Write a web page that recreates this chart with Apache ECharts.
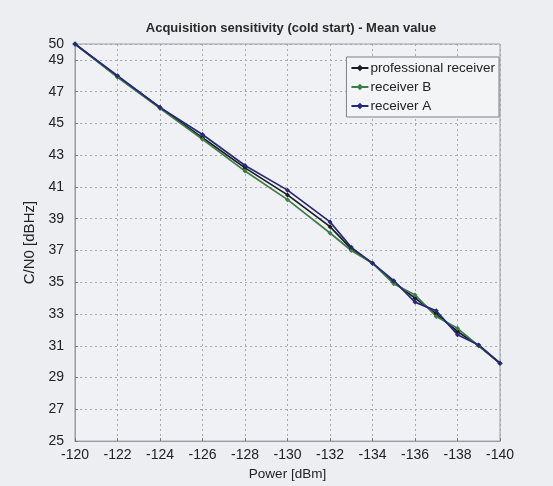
<!DOCTYPE html>
<html>
<head>
<meta charset="utf-8">
<script src="https://cdn.jsdelivr.net/npm/echarts@6/dist/echarts.min.js"></script>
<style>
html,body{margin:0;padding:0;background:#eceef1;}
#chart{width:553px;height:486px;}
</style>
</head>
<body>
<div id="chart"></div>
<script>
const powerProf = [-120,-122,-124,-126,-128,-130,-132,-133,-134,-135,-136,-137,-138,-139,-140];
const cnoProf   = [50,47.95,46.0,44.1,42.2,40.5,38.5,37.1,36.2,35.0,34.0,33.0,31.9,31.0,29.9];
const powerB = [-120,-122,-124,-126,-128,-130,-132,-133,-134,-135,-136,-137,-138,-139,-140];
const cnoB   = [50,47.9,45.95,44.0,42.0,40.2,38.1,37.0,36.2,34.9,34.2,32.85,32.1,31.0,29.9];
const powerA = [-120,-122,-124,-126,-128,-130,-132,-133,-134,-135,-136,-137,-138,-139,-140];
const cnoA   = [50,48.0,46.0,44.3,42.35,40.8,38.8,37.2,36.2,35.1,33.75,33.2,31.7,31.05,29.9];
const yTicks = [25,27,29,31,33,35,37,39,41,43,45,47,49,50];
const seriesNames = ['professional receiver','receiver B','receiver A'];
const seriesColors = ['#1c1c26','#3d7d47','#28287a'];

const pairs = (xs, ys) => xs.map((x, i) => [x, ys[i]]);
const font = 'Liberation Sans';

const chart = echarts.init(document.getElementById('chart'));
const mk = (name, xs, ys, color) => ({
  name, type: 'line', data: pairs(xs, ys),
  symbol: 'diamond', symbolSize: 5, showSymbol: true,
  lineStyle: { color, width: 1.7 }, itemStyle: { color },
  emphasis: { disabled: true }, animation: false
});
chart.setOption({
  backgroundColor: '#eceef1',
  animation: false,
  textStyle: { fontFamily: font },
  title: {
    text: 'Acquisition sensitivity (cold start) - Mean value',
    left: 286, textAlign: 'center', top: 17,
    textStyle: { fontFamily: font, fontSize: 13, fontWeight: 'bold', color: '#2a2a2a' }
  },
  legend: {
    right: 54, top: 57, orient: 'vertical',
    itemWidth: 17, itemHeight: 8, itemGap: 5,
    padding: [4, 4, 4, 4],
    backgroundColor: '#f3f4f6', borderColor: '#808088', borderWidth: 1,
    textStyle: { fontFamily: font, fontSize: 13.5, color: '#222', padding: [0,0,0,-3] },
    data: seriesNames
  },
  grid: { left: 75, right: 53, top: 44, bottom: 42, show: true, backgroundColor: '#f0f1f4', borderColor: '#9a9aa6', borderWidth: 1 },
  xAxis: {
    type: 'value', inverse: true, min: -140, max: -120, interval: 2,
    name: 'Power [dBm]', nameLocation: 'middle', nameGap: 23,
    nameTextStyle: { fontFamily: font, fontSize: 13.5, color: '#222' },
    axisLine: { lineStyle: { color: '#9a9aa6' } },
    axisTick: { inside: true, length: 3, lineStyle: { color: '#777' } },
    axisLabel: { fontFamily: font, fontSize: 14, color: '#222', margin: 7 },
    splitLine: { show: true, lineStyle: { color: '#a8a8b4', type: [2, 3], width: 1 } }
  },
  yAxis: {
    type: 'value', min: 25, max: 50,
    name: 'C/N0 [dBHz]', nameLocation: 'middle', nameGap: 32,
    nameTextStyle: { fontFamily: font, fontSize: 15, color: '#222' },
    axisLine: { lineStyle: { color: '#9a9aa6' } },
    axisTick: { inside: true, length: 3, customValues: yTicks, lineStyle: { color: '#777' } },
    axisLabel: { fontFamily: font, fontSize: 14, color: '#222', margin: 11, customValues: yTicks,
                 showMinLabel: true, showMaxLabel: true, hideOverlap: false },
    splitLine: { show: true, lineStyle: { color: '#a8a8b4', type: [2, 3], width: 1 } }
  },
  series: [
    mk(seriesNames[0], powerProf, cnoProf, seriesColors[0]),
    mk(seriesNames[1], powerB, cnoB, seriesColors[1]),
    mk(seriesNames[2], powerA, cnoA, seriesColors[2])
  ]
});
</script>
</body>
</html>
